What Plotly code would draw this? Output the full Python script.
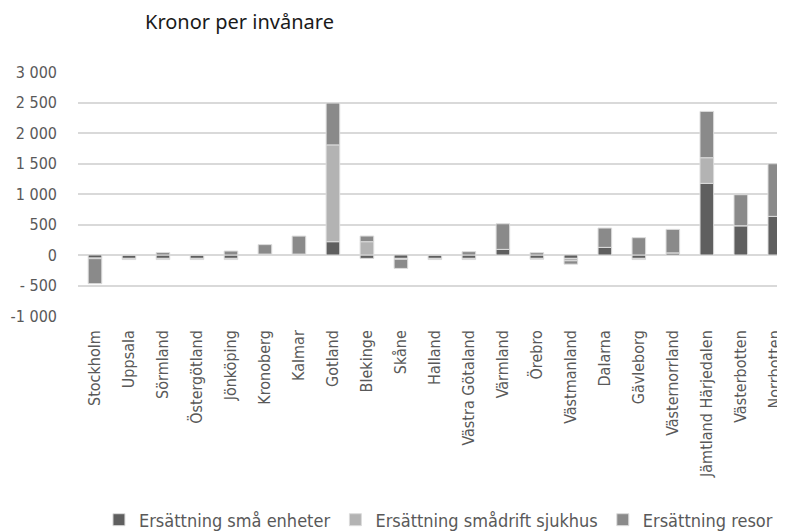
import plotly.graph_objects as go

regions = ["Stockholm", "Uppsala", "Sörmland", "Östergötland", "Jönköping", "Kronoberg",
           "Kalmar", "Gotland", "Blekinge", "Skåne", "Halland", "Västra Götaland",
           "Värmland", "Örebro", "Västmanland", "Dalarna", "Gävleborg", "Västernorrland",
           "Jämtland Härjedalen", "Västerbotten", "Norrbotten"]

sma_enheter = [-50, -55, -55, -55, -55, 0, 0, 218, -55, -55, -55, -55,
               92, -55, -55, 125, -55, 35, 1174, 480, 633]
smadrift_sjukhus = [-10, -20, -20, -20, -20, 15, 15, 1587, 218, -15, -20, -20,
                    0, -15, -40, 0, -20, 0, 421, 0, 0]
resor = [-410, 0, 40, 0, 65, 155, 295, 686, 93, -150, 0, 55,
         420, 38, -55, 317, 284, 385, 759, 508, 863]

series_names = ["Ersättning små enheter", "Ersättning smådrift sjukhus", "Ersättning resor"]
series_colors = ["#5f5f5f", "#b3b3b3", "#8a8a8a"]

tick_vals = [-1000, -500, 0, 500, 1000, 1500, 2000, 2500, 3000]
tick_text = ["-1 000", "- 500", "0", "500", "1 000", "1 500", "2 000", "2 500", "3 000"]

narrow = "DejaVu Sans Condensed, Liberation Sans Narrow, Arial Narrow, sans-serif"

# the page body adds an 8px offset; the figure is sized/positioned to compensate
W, H = 777, 523
fig = go.Figure()
for name, vals, col in zip(series_names, [sma_enheter, smadrift_sjukhus, resor], series_colors):
    fig.add_trace(go.Bar(
        x=regions, y=vals, name=name,
        marker=dict(color=col, line=dict(color="#dcdcdc", width=1)),
    ))

fig.update_layout(
    width=W, height=H,
    barmode="relative",
    bargap=0.6,
    plot_bgcolor="white", paper_bgcolor="white",
    margin=dict(l=70, r=0, t=64, b=215, autoexpand=False),
    title=dict(text="Kronor per invånare", x=137/W, xref="container", xanchor="left",
               y=1-14/H, yref="container", yanchor="middle",
               font=dict(family="Noto Sans, Open Sans, sans-serif", size=20, color="#1a1a1a")),
    legend=dict(orientation="h", xref="container", yref="container",
                x=0.554, xanchor="center", y=1-512/H, yanchor="middle",
                font=dict(family=narrow, size=18, color="#595959"),
                traceorder="normal", itemwidth=30),
    font=dict(family=narrow, color="#595959"),
)

fig.update_xaxes(
    type="category",
    range=[-0.5, 20.3],
    tickangle=-90,
    tickfont=dict(family=narrow, size=16, color="#595959"),
    showgrid=False, showline=False, ticks="",
    ticklabelstandoff=10, automargin=False,
)
fig.update_yaxes(
    range=[-1000, 3000],
    tickvals=tick_vals, ticktext=tick_text,
    tickfont=dict(family=narrow, size=16, color="#595959"),
    showgrid=True, gridcolor="#d9d9d9", gridwidth=1.5,
    zeroline=True, zerolinecolor="#d9d9d9", zerolinewidth=1.5,
    showline=False, ticks="",
    ticklabelstandoff=20, automargin=False,
)

fig.write_html("out.html")
